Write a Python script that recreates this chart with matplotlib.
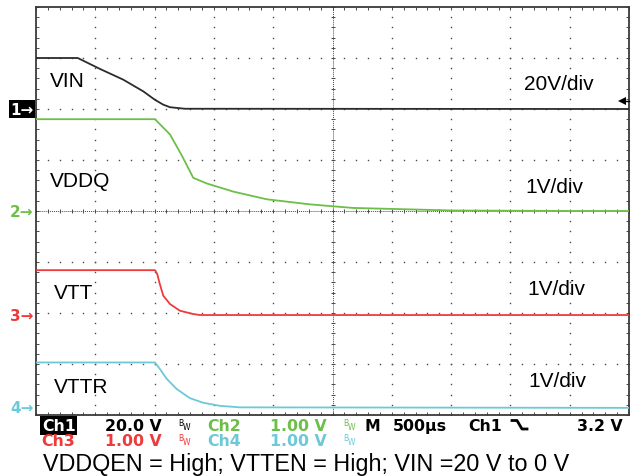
import numpy as np
import matplotlib
matplotlib.use("Agg")
import matplotlib.pyplot as plt
from matplotlib.lines import Line2D
from matplotlib.transforms import blended_transform_factory

# scope settings
volts_per_div = [20.0, 1.0, 1.0, 1.0]
ms_per_div = 0.5
ch_offsets = [2.0, 0.0, -2.04, -3.86]   # ground marker position, divisions from centre
trig_level = 3.2

# traces (time in ms from left edge, volts)
t_vin = [0, 0.352, 0.54, 0.736, 0.905, 1.003, 1.073, 1.13, 1.256, 5.0]
v_vin = [20, 20, 15.7, 11.5, 6.9, 3.6, 1.7, 0.7, 0.1, 0]

t_vddq = [0, 1.003, 1.13, 1.229, 1.326, 1.44, 1.664, 1.945, 2.31, 2.673, 3.094, 3.516, 4.503, 5.0]
v_vddq = [1.8, 1.8, 1.5, 1.09, 0.65, 0.54, 0.38, 0.23, 0.13, 0.06, 0.035, 0.01, 0, 0]

t_vtt = [0, 1.003, 1.023, 1.04, 1.073, 1.13, 1.214, 1.326, 1.383, 5.0]
v_vtt = [0.88, 0.88, 0.8, 0.64, 0.38, 0.215, 0.084, 0.02, 0, 0]

t_vttr = [0, 1.003, 1.045, 1.102, 1.186, 1.298, 1.41, 1.551, 1.72, 5.0]
v_vttr = [0.89, 0.89, 0.76, 0.57, 0.37, 0.19, 0.1, 0.04, 0.01, 0]

traces = [(t_vin, v_vin), (t_vddq, v_vddq), (t_vtt, v_vtt), (t_vttr, v_vttr)]
names = ["VIN", "VDDQ", "VTT", "VTTR"]
scale_labels = ["20V/div", "1V/div", "1V/div", "1V/div"]
colors = ["#2b2b2b", "#6cbf48", "#ee3a3a", "#6cc9d8"]
marker_colors = ["white", "#6cbf48", "#ee3a3a", "#6cc9d8"]

W, H = 634, 477
fig = plt.figure(figsize=(W / 100, H / 100), dpi=100)
fig.patch.set_facecolor("white")
ax = fig.add_axes([36 / W, (H - 416) / H, 593 / W, 408 / H])
ax.set_xlim(0, 10)
ax.set_ylim(-4, 4)

# graticule
grid_c = "#4a4a4a"
minor_x = np.arange(0, 10.001, 0.2)
minor_y = np.arange(-4, 4.001, 0.2)
for xi in range(1, 10):
    if xi == 5:
        continue
    ax.plot(np.full_like(minor_y, xi), minor_y, ls="none", marker="s", ms=1.0,
            mew=0, color=grid_c, zorder=1)
for yi in range(-3, 4):
    if yi == 0:
        continue
    ax.plot(minor_x, np.full_like(minor_x, yi), ls="none", marker="s", ms=1.0,
            mew=0, color=grid_c, zorder=1)
# centre cross
ax.axhline(0, color=grid_c, lw=0.7, ls=(0, (1, 1)), zorder=1)
ax.axvline(5, color=grid_c, lw=0.7, ls=(0, (1, 1)), zorder=1)
ax.plot(minor_x, np.zeros_like(minor_x), ls="none", marker="|", ms=3.5, mew=0.7,
        color=grid_c, zorder=1)
ax.plot(np.full_like(minor_y, 5), minor_y, ls="none", marker="_", ms=3.5, mew=0.7,
        color=grid_c, zorder=1)

# edge ticks
ax.set_xticks(np.arange(0, 10.01, 1))
ax.set_yticks(np.arange(-4, 4.01, 1))
ax.set_xticks(minor_x, minor=True)
ax.set_yticks(minor_y, minor=True)
ax.tick_params(which="both", direction="in", length=2.5, width=0.7, color=grid_c,
               top=True, right=True, labelbottom=False, labelleft=False)
for s in ax.spines.values():
    s.set_color("#3a3a3a")
    s.set_linewidth(1.3)

# traces
for (t, v), off, vpd, c in zip(traces, ch_offsets, volts_per_div, colors):
    x = np.array(t) / ms_per_div
    y = off + np.array(v) / vpd
    ax.plot(x, y, color=c, lw=1.3, zorder=3, solid_joinstyle="round")

# trigger level arrow on the right edge
ty = ch_offsets[0] + trig_level / volts_per_div[0]
ax.plot([9.88, 10], [ty, ty], color="black", lw=1.0, zorder=4, clip_on=False)
ax.plot([9.88], [ty], marker="<", ms=6, color="black", mew=0, zorder=4, clip_on=False)

# channel ground markers
left_tr = blended_transform_factory(ax.transAxes, ax.transData)
for i, off in enumerate(ch_offsets):
    kw = {}
    if i == 0:
        kw["bbox"] = dict(facecolor="black", edgecolor="none", pad=1.0)
    ax.text(-0.004, off, f"{i + 1}\u2192", transform=left_tr, ha="right", va="center",
            fontsize=11, fontweight="bold", color=marker_colors[i],
            family="DejaVu Sans", clip_on=False, **kw)

# labels on the screen
label_pos = [(0.236, 2.445), (0.236, 0.49), (0.309, -1.712), (0.309, -3.543)]
scale_pos = [(8.23, 2.39), (8.26, 0.373), (8.28, -1.627), (8.31, -3.425)]
for n, (lx, ly), s, (sx, sy) in zip(names, label_pos, scale_labels, scale_pos):
    ax.text(lx, ly, n, fontsize=15, family="Liberation Sans", va="baseline",
            ha="left", color="black", zorder=5)
    ax.text(sx, sy, s, fontsize=15, family="Liberation Sans", va="baseline",
            ha="left", color="black", zorder=5)


def fx(px):
    return px / W


def fy(py):
    return (H - py) / H


# status readout
status_font = dict(family="DejaVu Sans", fontweight="bold", fontsize=11.3)
row1 = [("20.0 V", 105, "black"), ("Ch2", 207, colors[1]), ("1.00 V", 270, colors[1]),
        ("M", 365, "black"), ("500\u00b5s", 393, "black"), ("Ch1", 468, "black"),
        ("3.2 V", 577, "black")]
row2 = [("Ch3", 41, colors[2]), ("1.00 V", 105, colors[2]), ("Ch4", 207, colors[3]),
        ("1.00 V", 270, colors[3])]
fig.text(fx(42), fy(431), "Ch1", color="white", va="baseline", ha="left",
         bbox=dict(facecolor="black", edgecolor="none", pad=1.2), **status_font)
for txt, px, c in row1:
    fig.text(fx(px), fy(431), txt, color=c, va="baseline", ha="left", **status_font)
for txt, px, c in row2:
    fig.text(fx(px), fy(446), txt, color=c, va="baseline", ha="left", **status_font)

# bandwidth-limit flags
bw = [(178, 431, "black"), (343, 431, colors[1]), (178, 446, colors[2]), (343, 446, colors[3])]
for px, base, c in bw:
    fig.text(fx(px), fy(base - 4.5), "B", color=c, fontsize=5.5, family="DejaVu Sans",
             va="baseline", ha="left")
    fig.text(fx(px + 4.5), fy(base - 0.5), "W", color=c, fontsize=5.5, family="DejaVu Sans",
             va="baseline", ha="left")

# falling edge trigger symbol
fig.add_artist(Line2D([fx(512), fx(517), fx(522), fx(527)],
                      [fy(421.5), fy(421.5), fy(430), fy(430)],
                      transform=fig.transFigure, color="black", lw=2.0))

fig.text(fx(43), fy(471), "VDDQEN = High; VTTEN = High; VIN =20 V to 0 V",
         fontsize=16.8, family="Liberation Sans", va="baseline", ha="left", color="black")

fig.savefig("out.png", dpi=100)
